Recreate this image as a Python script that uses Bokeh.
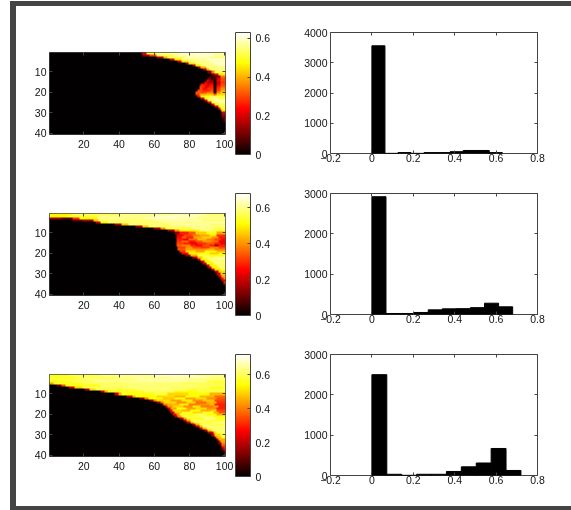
from bokeh.plotting import figure
from bokeh.layouts import column, row
from bokeh.models import LinearColorMapper, ColorBar, FixedTicker, LinearAxis, Range1d
from bokeh.embed import file_html
from bokeh.resources import INLINE
import numpy as np

# --- histogram data
hist1_counts = [3560, 5, 30, 5, 30, 30, 60, 100, 100, 30]
hist1_binwidth = 0.063
hist2_counts = [2920, 25, 25, 50, 115, 140, 145, 170, 280, 190]
hist2_binwidth = 0.068
hist3_counts = [2500, 30, 5, 30, 30, 100, 215, 310, 670, 125]
hist3_binwidth = 0.072

hist_xticks = [-0.2, 0, 0.2, 0.4, 0.6, 0.8]
hist_xlabels = {-0.2: "\u22120.2", 0: "0", 0.2: "0.2", 0.4: "0.4", 0.6: "0.6", 0.8: "0.8"}
hist1_yticks = [0, 1000, 2000, 3000, 4000]
hist2_yticks = [0, 1000, 2000, 3000]
hist3_yticks = [0, 1000, 2000, 3000]

heat_xticks = [20, 40, 60, 80, 100]
heat_yticks = [10, 20, 30, 40]
cbar_ticks = [0, 0.2, 0.4, 0.6]
cbar_max = [0.63, 0.68, 0.72]

# --- heat maps, read row by row as (first column, value) runs; columns before the first run are 0
panel1_runs = [
 [(53,.2),(56,.5),(62,.56),(75,.6),(90,.58)],
 [(54,.15),(58,.3),(62,.52),(72,.58),(85,.6),(95,.56)],
 [(62,.15),(66,.4),(68,.52),(78,.58),(92,.55)],
 [(69,.2),(72,.45),(76,.56),(90,.6)],
 [(74,.2),(76,.45),(80,.55),(92,.58)],
 [(78,.15),(80,.45),(84,.56),(94,.6)],
 [(82,.15),(84,.45),(87,.55),(96,.58)],
 [(85,.15),(87,.4),(90,.55)],
 [(88,.15),(90,.4),(92,.55)],
 [(91,.12),(93,.35),(95,.52)],
 [(93,.1),(95,.2),(97,.45)],
 [(92,.06),(96,.12),(98,.35)],
 [(91,.1),(93,.05),(96,.2),(98,.3)],
 [(90,.2),(92,.12),(94,.03),(96,.22),(98,.3)],
 [(89,.22),(91,.16),(94,.02),(96,.18),(98,.28)],
 [(87,.25),(90,.2),(92,.24),(94,.02),(96,.2),(98,.3)],
 [(86,.28),(89,.22),(92,.26),(94,.03),(96,.25),(98,.32)],
 [(86,.3),(88,.24),(91,.28),(94,.03),(96,.28),(98,.36)],
 [(85,.3),(88,.26),(92,.3),(94,.04),(96,.3),(98,.38)],
 [(84,.32),(87,.3),(90,.34),(94,.06),(96,.36),(98,.42)],
 [(84,.28),(86,.4),(90,.42),(94,.32),(96,.44)],
 [(85,.25),(87,.48),(92,.52),(96,.5)],
 [(87,.2),(89,.5),(92,.56),(97,.52)],
 [(89,.2),(91,.5),(94,.58)],
 [(91,.2),(93,.52),(97,.56)],
 [(93,.2),(95,.5),(98,.54)],
 [(95,.2),(97,.5)],
 [(97,.25),(98,.5)],
 [(98,.25),(99,.45)],
 [(99,.18)],
 [(99,.14)],
 [(99,.1)],
 [(100,.1)],
 [(100,.06)],
 [], [], [], [], [], [],
]

panel2_runs = [
 [(1,.5),(14,.56),(40,.6),(70,.62),(90,.58)],
 [(1,.5),(12,.54),(28,.6),(60,.64),(85,.6)],
 [(1,.16),(8,.1),(14,.3),(18,.5),(28,.6),(55,.63),(80,.6)],
 [(14,.1),(20,.16),(26,.45),(29,.58),(60,.62),(88,.58)],
 [(27,.2),(30,.5),(34,.58),(65,.6),(90,.62)],
 [(38,.16),(42,.45),(46,.58),(70,.62),(92,.58)],
 [(50,.16),(54,.45),(57,.58),(78,.6)],
 [(60,.16),(64,.4),(67,.56),(82,.6),(94,.56)],
 [(68,.16),(72,.4),(75,.5),(86,.58),(95,.54)],
 [(72,.15),(75,.28),(80,.34),(84,.46),(90,.52),(96,.42)],
 [(73,.24),(77,.32),(82,.38),(86,.42),(92,.48),(96,.3)],
 [(73,.26),(76,.34),(79,.28),(83,.42),(88,.46),(93,.4),(97,.28)],
 [(73,.28),(77,.24),(80,.36),(85,.44),(90,.38),(95,.32),(98,.26)],
 [(73,.3),(76,.36),(80,.27),(84,.33),(88,.4),(93,.36),(97,.24)],
 [(73,.32),(77,.28),(81,.24),(85,.3),(90,.34),(95,.28),(98,.24)],
 [(73,.34),(76,.38),(81,.29),(84,.26),(88,.33),(92,.28),(95,.16),(97,.28)],
 [(74,.32),(78,.4),(82,.33),(87,.31),(92,.38),(97,.32)],
 [(74,.34),(78,.42),(84,.4),(90,.44),(95,.38)],
 [(75,.3),(78,.48),(84,.42),(89,.5),(96,.44)],
 [(76,.25),(80,.5),(86,.52),(92,.46),(97,.52)],
 [(78,.15),(81,.42),(85,.55),(92,.52)],
 [(82,.2),(85,.45),(88,.56),(95,.6)],
 [(85,.2),(87,.5),(91,.6)],
 [(87,.2),(89,.5),(93,.58)],
 [(88,.2),(90,.5),(94,.6)],
 [(90,.2),(92,.5),(96,.56)],
 [(91,.2),(93,.5),(97,.58)],
 [(93,.2),(95,.48),(98,.56)],
 [(95,.2),(97,.48)],
 [(96,.2),(98,.45)],
 [(97,.2),(99,.42)],
 [(98,.25),(100,.4)],
 [(99,.2)],
 [(100,.3)],
 [(100,.12)],
 [], [], [], [], [],
]

panel3_runs = [
 [(1,.56),(12,.6),(30,.64),(60,.68),(85,.64)],
 [(1,.56),(16,.6),(40,.64),(70,.66),(92,.62)],
 [(1,.58),(20,.62),(50,.66),(80,.62)],
 [(1,.56),(14,.6),(26,.64),(60,.64),(90,.58)],
 [(1,.44),(3,.56),(20,.6),(45,.62),(75,.6),(94,.58)],
 [(5,.12),(8,.35),(10,.55),(30,.62),(60,.62),(85,.6)],
 [(12,.2),(15,.5),(20,.6),(45,.62),(70,.6),(92,.56)],
 [(21,.2),(24,.5),(27,.58),(50,.62),(78,.58)],
 [(30,.2),(32,.45),(34,.56),(55,.6),(72,.54),(85,.58)],
 [(38,.2),(40,.45),(42,.55),(60,.58),(68,.5),(80,.54),(92,.46)],
 [(45,.2),(48,.45),(50,.54),(62,.5),(72,.46),(78,.54),(86,.46),(95,.38)],
 [(52,.15),(55,.4),(57,.54),(65,.48),(72,.54),(78,.44),(84,.5),(90,.42),(96,.36)],
 [(58,.15),(60,.4),(62,.5),(70,.44),(76,.52),(82,.42),(88,.48),(95,.34)],
 [(62,.15),(64,.38),(66,.5),(73,.42),(79,.5),(84,.38),(90,.46),(96,.32)],
 [(65,.2),(66,.4),(68,.46),(75,.52),(80,.4),(86,.42),(92,.46),(95,.3)],
 [(67,.25),(68,.42),(71,.5),(77,.42),(82,.52),(87,.4),(94,.44),(97,.3)],
 [(68,.2),(70,.44),(73,.54),(79,.44),(84,.5),(90,.42),(96,.3)],
 [(69,.25),(71,.5),(76,.46),(81,.54),(87,.46),(93,.5),(96,.34)],
 [(70,.2),(72,.48),(76,.55),(82,.5),(88,.56),(94,.46),(97,.36)],
 [(71,.25),(73,.42),(75,.56),(84,.6),(90,.54),(96,.46)],
 [(72,.2),(74,.42),(76,.58),(86,.6),(94,.54)],
 [(75,.2),(77,.44),(79,.56),(88,.62),(96,.56)],
 [(77,.2),(79,.44),(81,.6),(92,.58)],
 [(79,.2),(81,.45),(83,.58),(94,.62)],
 [(82,.2),(84,.45),(86,.6),(96,.58)],
 [(84,.2),(86,.45),(88,.62)],
 [(86,.2),(88,.45),(90,.6)],
 [(89,.2),(91,.48),(93,.62)],
 [(91,.2),(94,.5),(96,.6)],
 [(93,.2),(95,.5),(98,.58)],
 [(95,.2),(96,.48),(99,.56)],
 [(96,.2),(97,.45)],
 [(97,.2),(98,.45)],
 [(97,.15),(99,.4)],
 [(98,.15),(99,.35)],
 [(99,.2),(100,.3)],
 [(99,.1),(100,.25)],
 [(100,.12)],
 [],
 [],
]


def runs_to_matrix(runs):
    mat = np.zeros((40, 100))
    for r, line in enumerate(runs):
        for k, (start, val) in enumerate(line):
            stop = line[k + 1][0] if k + 1 < len(line) else 101
            mat[r, start - 1:stop - 1] = val
    return mat


def hot_palette(n=256):
    """Black - red - yellow - white."""
    m = int(round(3 / 8 * n))
    out = []
    for i in range(n):
        r = min(1, (i + 1) / m)
        g = min(1, max(0, (i + 1 - m) / m))
        b = max(0, (i + 1 - 2 * m) / (n - 2 * m))
        out.append("#%02x%02x%02x" % (int(r * 255), int(g * 255), int(b * 255)))
    return out


HOT = hot_palette()
FONT = "Liberation Sans"
FS = "10.5px"
INK = "#111111"
EDGE = "#444444"


def style_axis(ax, ticks, standoff, overrides=None):
    ax.ticker = FixedTicker(ticks=ticks)
    ax.axis_line_color = None
    ax.major_tick_in = 3
    ax.major_tick_out = 0
    ax.minor_tick_line_color = None
    ax.major_tick_line_color = EDGE
    ax.major_label_text_font = FONT
    ax.major_label_text_font_size = FS
    ax.major_label_text_color = INK
    ax.major_label_standoff = standoff
    if overrides:
        ax.major_label_overrides = overrides


def mirror_axes(p, xticks, yticks):
    for ticks, side in ((xticks, "above"), (yticks, "right")):
        ax = LinearAxis()
        style_axis(ax, ticks, 0, {t: "" for t in ticks})
        p.add_layout(ax, side)


def heat_figure(runs, vmax, top, bottom):
    p = figure(frame_width=176, frame_height=82, min_border_left=33, min_border_right=60,
               min_border_top=top, min_border_bottom=bottom, frame_align=False,
               x_range=Range1d(0.5, 100.5), y_range=Range1d(40.5, 0.5),
               toolbar_location=None, output_backend="svg")
    p.grid.visible = False
    p.outline_line_color = EDGE
    p.background_fill_color = "#000000"
    mapper = LinearColorMapper(palette=HOT, low=0, high=vmax)
    p.image(image=[runs_to_matrix(runs)], x=0.5, y=0.5, dw=100, dh=40, color_mapper=mapper)
    style_axis(p.xaxis[0], heat_xticks, 5)
    style_axis(p.yaxis[0], heat_yticks, 3)
    mirror_axes(p, heat_xticks, heat_yticks)
    cb = ColorBar(color_mapper=mapper, ticker=FixedTicker(ticks=cbar_ticks),
                  location=(186, -20), width=15, height=122, padding=0, margin=0,
                  bar_line_color=EDGE, major_tick_line_color=EDGE, major_tick_in=3,
                  minor_tick_line_color=None, label_standoff=5,
                  major_label_text_font=FONT, major_label_text_font_size=FS,
                  major_label_text_color=INK, background_fill_color=None,
                  border_line_color=None)
    p.add_layout(cb, "center")
    return p


def hist_figure(counts, width, yticks, top, bottom):
    p = figure(frame_width=207, frame_height=121, min_border_left=45, min_border_right=34,
               min_border_top=top, min_border_bottom=bottom, frame_align=False,
               x_range=Range1d(-0.2, 0.8), y_range=Range1d(yticks[0], yticks[-1]),
               toolbar_location=None, output_backend="svg")
    p.grid.visible = False
    p.outline_line_color = EDGE
    left = [i * width for i in range(len(counts))]
    right = [(i + 1) * width for i in range(len(counts))]
    p.quad(left=left, right=right, bottom=0, top=counts,
           fill_color="#000000", line_color="#000000", line_width=1)
    style_axis(p.xaxis[0], hist_xticks, 0, hist_xlabels)
    style_axis(p.yaxis[0], yticks, 3)
    mirror_axes(p, hist_xticks, yticks)
    return p


row1 = row(heat_figure(panel1_runs, cbar_max[0], 46, 36),
           hist_figure(hist1_counts, hist1_binwidth, hist1_yticks, 26, 17))
row2 = row(heat_figure(panel2_runs, cbar_max[1], 43, 38),
           hist_figure(hist2_counts, hist2_binwidth, hist2_yticks, 23, 19))
row3 = row(heat_figure(panel3_runs, cbar_max[2], 41, 50),
           hist_figure(hist3_counts, hist3_binwidth, hist3_yticks, 21, 31))

page = column(row1, row2, row3, margin=(1, 0, 0, 10),
              styles={"border-left": "6px solid #444444", "border-top": "5px solid #444444",
                      "border-bottom": "4px solid #444444", "background": "#ffffff",
                      "box-sizing": "content-box", "filter": "blur(0.45px)"})

open("out.html", "w").write(file_html(page, INLINE))
